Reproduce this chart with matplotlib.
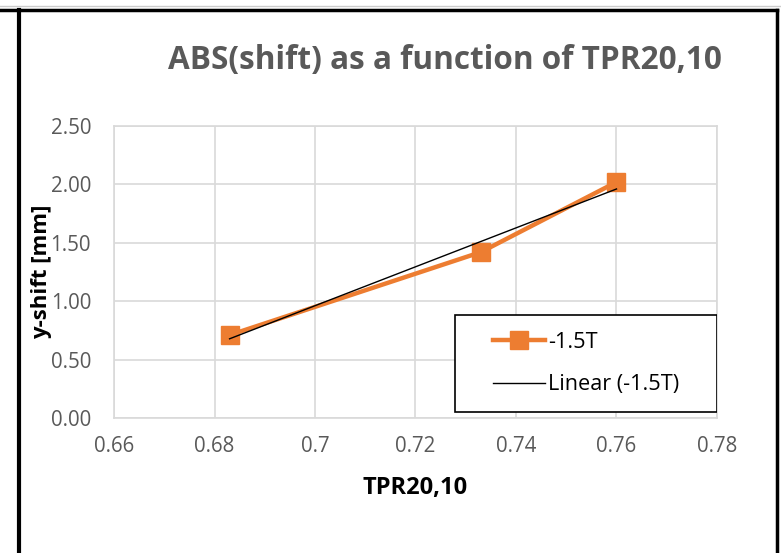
import numpy as np
import matplotlib.pyplot as plt
from matplotlib.lines import Line2D
from matplotlib.patches import Rectangle

# TPR20,10 vs absolute y-shift, -1.5T series
tpr = [0.683, 0.733, 0.760]
shift = [0.71, 1.42, 2.02]
x_ticks = [0.66, 0.68, 0.70, 0.72, 0.74, 0.76, 0.78]
x_labels = ["0.66", "0.68", "0.7", "0.72", "0.74", "0.76", "0.78"]
y_ticks = [0.0, 0.5, 1.0, 1.5, 2.0, 2.5]

ORANGE = "#ED7D31"
GREY = "#595959"

plt.rcParams["font.family"] = ["Open Sans", "DejaVu Sans"]

W, H = 781, 553
fig = plt.figure(figsize=(W / 100, H / 100), dpi=100)
ax = fig.add_axes([114 / W, 1 - 418 / H, (717 - 114) / W, (418 - 126) / H])

ax.plot(tpr, shift, color=ORANGE, lw=3.2, marker="s", ms=12.5,
        label="-1.5T", zorder=3)

# linear trendline over the data range
k, b = np.polyfit(tpr, shift, 1)
xs = np.array([min(tpr), max(tpr)])
ax.plot(xs, k * xs + b, color="black", lw=1.0, label="Linear (-1.5T)", zorder=4)

ax.set_xlim(0.66, 0.78)
ax.set_ylim(0, 2.5)
ax.set_xticks(x_ticks)
ax.set_xticklabels(x_labels)
ax.set_yticks(y_ticks)
ax.set_yticklabels([f"{v:.2f}" for v in y_ticks])
ax.grid(True, color="#d9d9d9", lw=1.2)
ax.set_axisbelow(True)
for s in ax.spines.values():
    s.set_color("#d9d9d9")
    s.set_linewidth(1.2)
ax.tick_params(length=0, colors=GREY, labelsize=14.8)
ax.tick_params(axis="x", pad=13)
ax.tick_params(axis="y", pad=16.5)

ax.set_xlabel("TPR20,10", fontsize=17, fontweight="bold")
ax.xaxis.set_label_coords(0.5, (418 - 488) / 292)
ax.xaxis.label.set_va("center")
ax.set_ylabel("y-shift [mm]", fontsize=16, fontweight="bold")
ax.yaxis.set_label_coords((42 - 114) / 603, (418 - 272) / 292)
ax.yaxis.label.set_va("center")

fig.text(445 / W, 1 - 60 / H, "ABS(shift) as a function of TPR20,10",
         ha="center", va="center", fontsize=22.7, fontweight="bold", color=GREY)

# legend box, with the entries centred inside it
bx0, bx1 = (455 - 114) / 603, 1.0
by0, by1 = (418 - 412) / 292, (418 - 315) / 292
ax.add_patch(Rectangle((bx0, by0), bx1 - bx0, by1 - by0, transform=ax.transAxes,
                       facecolor="white", edgecolor="black", lw=1.2, zorder=5))
leg = ax.legend(loc="center", bbox_to_anchor=((bx0 + bx1) / 2, (by0 + by1) / 2),
                frameon=False, fontsize=15.6, handlelength=2.4,
                borderpad=0, labelspacing=1.0, borderaxespad=0, handletextpad=0.15)
leg.set_zorder(6)

# outer frame
fig.add_artist(Line2D([0, 1], [1 - 6 / H] * 2, color="#cccccc", lw=1))
fig.add_artist(Line2D([0, 777 / W], [1 - 9.5 / H] * 2, color="black", lw=2.5))
fig.add_artist(Line2D([19 / W] * 2, [0, 1 - 9.5 / H], color="black", lw=3))
fig.add_artist(Line2D([776.5 / W] * 2, [0, 1 - 9.5 / H], color="black", lw=2.5))

fig.savefig("out.png", dpi=100)
